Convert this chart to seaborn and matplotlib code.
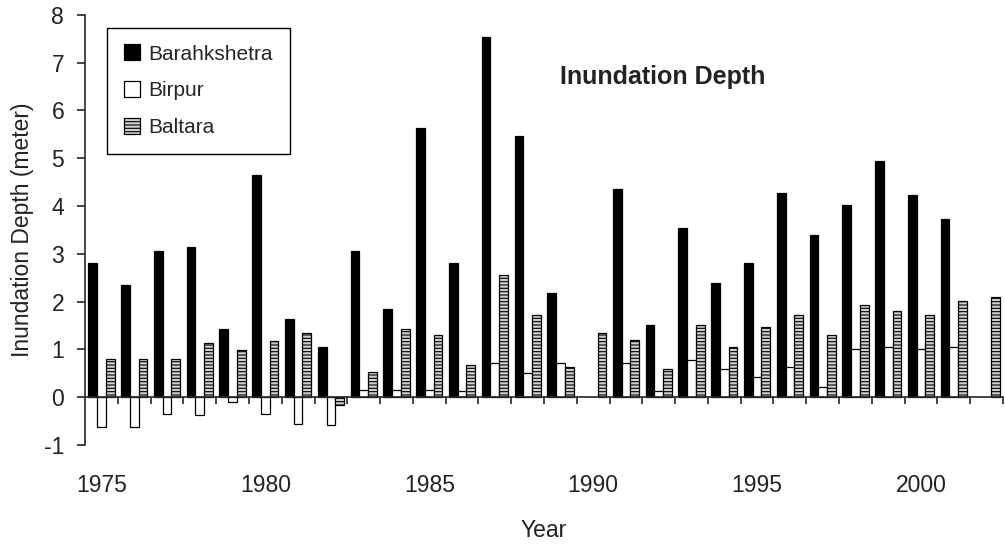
import numpy as np
import pandas as pd
import seaborn as sns
import matplotlib.pyplot as plt
from matplotlib.ticker import FixedLocator

nan = np.nan

# 读取图中数值
years = [1975, 1976, 1977, 1978, 1979, 1980, 1981, 1982, 1983, 1984,
         1985, 1986, 1987, 1988, 1989, 1990, 1991, 1992, 1993, 1994,
         1995, 1996, 1997, 1998, 1999, 2000, 2001, 2002]
barahkshetra = [2.81, 2.35, 3.06, 3.14, 1.42, 4.65, 1.63, 1.05, 3.06, 1.85,
                5.64, 2.81, 7.53, 5.47, 2.18, nan, 4.36, 1.51, 3.53, 2.39,
                2.81, 4.28, 3.40, 4.03, 4.95, 4.24, 3.73, nan]
birpur = [-0.63, -0.63, -0.35, -0.38, -0.10, -0.35, -0.56, -0.59, 0.14, 0.14,
          0.14, 0.12, 0.71, 0.50, 0.71, nan, 0.71, 0.12, 0.77, 0.58,
          0.42, 0.63, 0.21, 1.00, 1.05, 1.00, 1.05, nan]
baltara = [0.80, 0.80, 0.80, 1.13, 0.98, 1.17, 1.35, -0.17, 0.52, 1.43,
           1.31, 0.68, 2.56, 1.72, 0.64, 1.35, 1.19, 0.59, 1.51, 1.05,
           1.47, 1.72, 1.31, 1.93, 1.81, 1.72, 2.02, 2.10]
sites = ["Barahkshetra", "Birpur", "Baltara"]
label_years = [1975, 1980, 1985, 1990, 1995, 2000]

df = pd.DataFrame({"Year": years * 3,
                   "Depth": barahkshetra + birpur + baltara,
                   "Site": [s for s in sites for _ in years]})

sns.set_style("ticks")
plt.rcParams["font.family"] = ["Liberation Sans", "DejaVu Sans"]
plt.rcParams["axes.unicode_minus"] = False
plt.rcParams["hatch.color"] = "black"
plt.rcParams["hatch.linewidth"] = 0.8

fig = plt.figure(figsize=(10.05, 5.48), dpi=100)
ax = fig.add_axes([0.0846, 0.188, 0.9134, 0.785])

sns.barplot(data=df, x="Year", y="Depth", hue="Site", hue_order=sites,
            order=years, width=0.8, gap=0, ax=ax, errorbar=None)

# 样式：黑色、白色、灰色横线填充
styles = [dict(fc="black", hatch=None), dict(fc="white", hatch=None),
          dict(fc="#cfcfcf", hatch="-----")]
for cont, st in zip(ax.containers, styles):
    for p in cont.patches:
        p.set_facecolor(st["fc"])
        p.set_edgecolor("black")
        p.set_linewidth(0.9)
        if st["hatch"]:
            p.set_hatch(st["hatch"])

ax.set_xlim(-0.5, len(years) - 0.5)
ax.set_ylim(-1, 8)
ax.set_yticks(range(-1, 9))
ax.spines["top"].set_visible(False)
ax.spines["right"].set_visible(False)
ax.spines["bottom"].set_position(("data", 0))
ax.spines["left"].set_linewidth(1.2)
ax.spines["bottom"].set_linewidth(1.2)

ax.set_xticks([years.index(y) for y in label_years])
ax.set_xticklabels([str(y) for y in label_years])
ax.xaxis.set_minor_locator(FixedLocator(np.arange(0.5, len(years), 1.0)))
ax.tick_params(axis="x", which="major", length=0, pad=55, labelsize=16.5, colors="#222222")
ax.tick_params(axis="x", which="minor", length=5, width=1.2, direction="out")
ax.tick_params(axis="y", length=6, width=1.2, pad=9, labelsize=16.5, colors="#222222")

ax.set_xlabel("Year", fontsize=16.5, color="#222222", labelpad=16)
ax.set_ylabel("Inundation Depth (meter)", fontsize=16.5, color="#222222", labelpad=7)

ax.text(0.629, 0.856, "Inundation Depth", transform=ax.transAxes,
        ha="center", va="center", fontsize=18, fontweight="bold", color="#222222")

ax.legend(ax.containers, sites, loc="upper left", bbox_to_anchor=(0.024, 0.97),
          borderaxespad=0, fontsize=15, frameon=True, fancybox=False,
          edgecolor="black", framealpha=1, handlelength=0.8, handleheight=0.8,
          handletextpad=0.4, labelspacing=0.85, borderpad=0.8)
ax.get_legend().get_frame().set_linewidth(1.0)

fig.savefig("out.png", dpi=100)
